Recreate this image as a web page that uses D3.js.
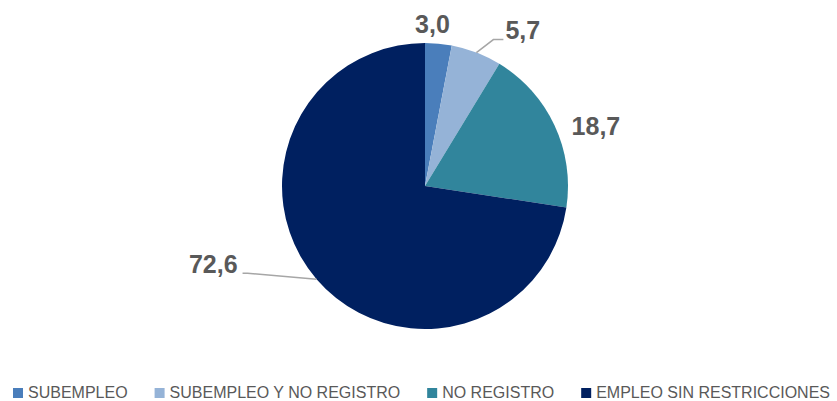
<!DOCTYPE html>
<html>
<head>
<meta charset="utf-8">
<script src="https://cdn.jsdelivr.net/npm/d3@7"></script>
<style>
  body { margin: 0; background: #fff; }
  svg { display: block; font-family: "Liberation Sans", Arial, sans-serif; }
</style>
</head>
<body>
<div id="chart"></div>
<script>
// data
var categories = ['SUBEMPLEO', 'SUBEMPLEO Y NO REGISTRO', 'NO REGISTRO', 'EMPLEO SIN RESTRICCIONES'];
var values = [3.0, 5.7, 18.7, 72.6];
var labels = ['3,0', '5,7', '18,7', '72,6'];
var colors = ['#4a7ebb', '#95b3d7', '#31859c', '#002060'];

var width = 837, height = 401;
var cx = 425, cy = 186, radius = 143;

var svg = d3.select('#chart').append('svg').attr('width', width).attr('height', height);
var g = svg.append('g').attr('transform', 'translate(' + cx + ',' + cy + ')');

var data = categories.map(function(c, i) {
    return { name: c, value: values[i], label: labels[i], color: colors[i] };
});

var pie = d3.pie().sort(null).value(function(d) { return d.value; });
var arc = d3.arc().innerRadius(0).outerRadius(radius);
var arcs = pie(data);

g.selectAll('path.slice').data(arcs).enter().append('path')
    .attr('class', 'slice')
    .attr('d', arc)
    .style('fill', function(d) { return d.data.color; });

// point on the rim at the middle of a slice
function rim(d, r) {
    var a = (d.startAngle + d.endAngle) / 2;
    return [r * Math.sin(a), -r * Math.cos(a)];
}

// label placement relative to the rim point (layout only)
var labelLayout = [
    { dx: -6, dy: -11, anchor: 'middle', leader: null },
    { dx: 29, dy: -14, anchor: 'start', leader: [[17, -13], [27, -13]] },
    { dx: 17, dy: 9.5, anchor: 'start', leader: null },
    { dx: -79, dy: -6, anchor: 'end', leader: [[-69, -6], [-74, -6]] }
];

arcs.forEach(function(d, i) {
    var p = rim(d, radius);
    var L = labelLayout[i];
    if (L.leader) {
        var pts = [p].concat(L.leader.map(function(o) { return [p[0] + o[0], p[1] + o[1]]; }));
        g.append('path')
            .attr('d', d3.line()(pts))
            .attr('fill', 'none')
            .attr('stroke', '#a6a6a6')
            .attr('stroke-width', 1.5);
    }
    g.append('text')
        .attr('x', p[0] + L.dx)
        .attr('y', p[1] + L.dy)
        .attr('text-anchor', L.anchor)
        .style('font-size', '25px')
        .style('font-weight', 'bold')
        .style('fill', '#595959')
        .text(d.data.label);
});

// legend
var legend = svg.append('g').attr('class', 'legend');
var lx = 13, ly = 389, box = 10, gap = 5, itemGap = 27;
data.forEach(function(d) {
    var item = legend.append('g').attr('transform', 'translate(' + lx + ',' + ly + ')');
    item.append('rect').attr('width', box).attr('height', box).attr('y', -1).style('fill', d.color);
    var t = item.append('text')
        .attr('x', box + gap)
        .attr('y', 9)
        .style('font-size', '16px')
        .style('fill', '#595959')
        .text(d.name);
    lx += box + gap + t.node().getComputedTextLength() + itemGap;
});
</script>
</body>
</html>
